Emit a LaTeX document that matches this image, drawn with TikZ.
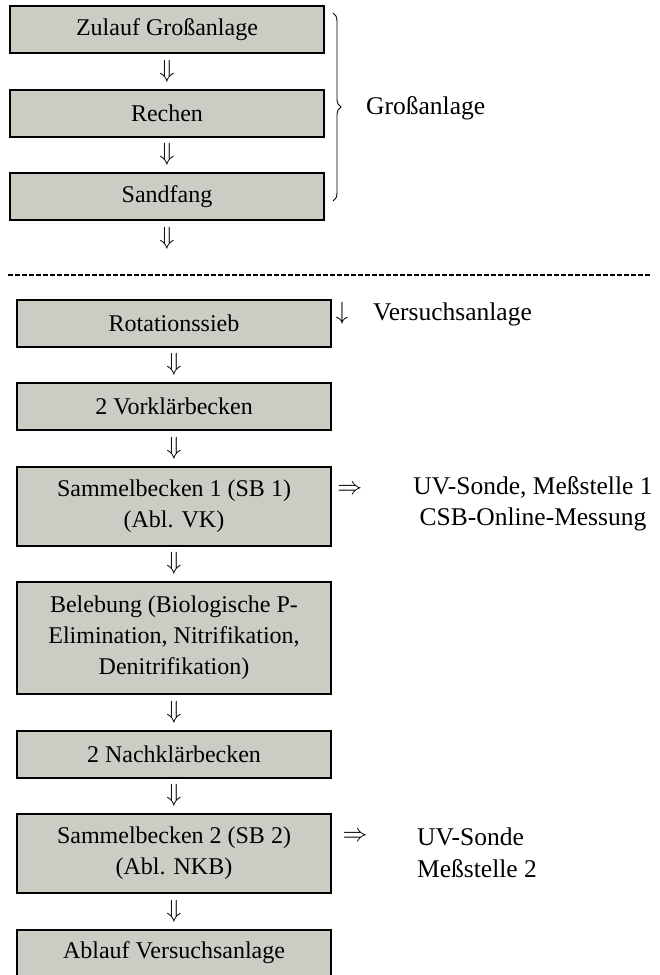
\documentclass[tikz,border=0pt]{standalone}
\usepackage{fontspec}
\setmainfont{Liberation Serif}
\usepackage{tikz}
\usetikzlibrary{arrows.meta}
\usetikzlibrary{decorations.pathreplacing}
\usetikzlibrary{positioning}
\definecolor{boxgray}{RGB}{204,204,196}

\begin{document}
\begin{tikzpicture}[stage/.style={draw,line width=2pt,fill=boxgray,minimum width=314pt,minimum height=47pt,
            align=center,inner sep=2pt,font=\fontsize{24}{31}\selectfont},
        twoline/.style={minimum height=79pt},
        threeline/.style={minimum height=112pt},
        pfeil/.style={font=\fontsize{23}{23}\selectfont,inner sep=0pt},
        side/.style={font=\fontsize{25.5}{31.5}\selectfont,inner sep=0pt},
        node distance=34.5pt,
  ]
    \useasboundingbox (0,0) rectangle (659pt,-975pt);

    \node[stage] (zulauf) at (167pt,-29.5pt) {Zulauf Großanlage};
    \node[stage,below=of zulauf] (rechen) {Rechen};
    \node[stage,below=of rechen] (sandfang) {Sandfang};
    \coordinate[below=of sandfang] (weiter);

    \path (zulauf) -- node[pfeil] {$\Downarrow$} (rechen);
    \path (rechen) -- node[pfeil] {$\Downarrow$} (sandfang);
    \path (sandfang) -- node[pfeil] {$\Downarrow$} (weiter);

    \coordinate (klammerOben) at (333pt,-13pt);
    \coordinate (klammerUnten) at (333pt,-201pt);
    \draw[line width=0.9pt,decorate,decoration={brace,amplitude=8pt}] (klammerOben) -- (klammerUnten);
    \node[side,anchor=west] (gross) at (366pt,-108pt) {Großanlage};

    \coordinate (trennL) at (8pt,-275pt);
    \coordinate (trennR) at (651pt,-275pt);
    \draw[line width=1.3pt,dash pattern=on 5pt off 2pt] (trennL) -- (trennR);

    \node[stage] (sieb) at (174pt,-323pt) {Rotationssieb};
    \node[stage,below=of sieb] (vk) {2 Vorklärbecken};
    \node[stage,twoline,below=of vk] (sb1) {Sammelbecken 1 (SB 1)\\(Abl. VK)};
    \node[stage,threeline,below=of sb1] (bel) {Belebung (Biologische P-\\Elimination, Nitrifikation,\\Denitrifikation)};
    \node[stage,below=of bel] (nk) {2 Nachklärbecken};
    \node[stage,twoline,below=of nk] (sb2) {Sammelbecken 2 (SB 2)\\(Abl. NKB)};
    \node[stage,below=of sb2] (ablauf) {Ablauf Versuchsanlage};

    \path (sieb) -- node[pfeil] {$\Downarrow$} (vk);
    \path (vk) -- node[pfeil] {$\Downarrow$} (sb1);
    \path (sb1) -- node[pfeil] {$\Downarrow$} (bel);
    \path (bel) -- node[pfeil] {$\Downarrow$} (nk);
    \path (nk) -- node[pfeil] {$\Downarrow$} (sb2);
    \path (sb2) -- node[pfeil] {$\Downarrow$} (ablauf);

    \node[pfeil] (runter) at (342pt,-313pt) {$\downarrow$};
    \node[side,anchor=west] (versuch) at (373pt,-314pt) {Versuchsanlage};

    \node[side,align=center] (mess1) at (533pt,-504pt) {UV-Sonde, Meßstelle 1\\CSB-Online-Messung};
    \path ([yshift=16pt]sb1.east) -- node[pfeil,pos=0.22] {$\Rightarrow$} ([yshift=16pt]mess1.west);

    \node[side,align=left,anchor=west] (mess2) at (417pt,-853pt) {UV-Sonde\\Meßstelle 2};
    \path ([yshift=16pt]sb2.east) -- node[pfeil,pos=0.27] {$\Rightarrow$} ([yshift=16pt]mess2.west);
\end{tikzpicture}
\end{document}
